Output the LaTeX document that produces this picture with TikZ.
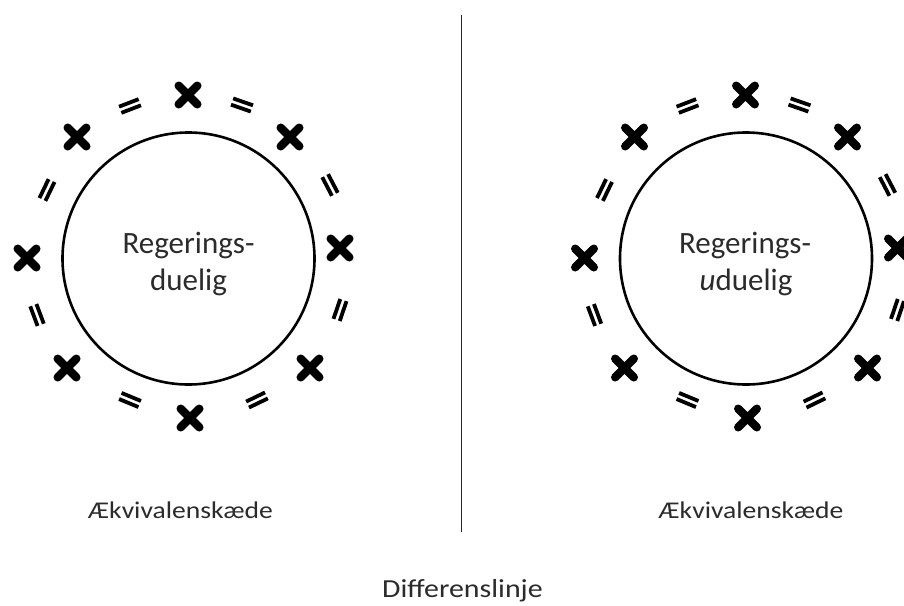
\documentclass[tikz,border=0pt]{standalone}
\usepackage{fontspec}
\setmainfont{Carlito}
\definecolor{txt}{HTML}{2B2B2B}
\tikzset{
  xmark/.pic={\draw[line width=8.4pt, line cap=round] (-9.3,-9.3)--(9.3,9.3) (-9.3,9.3)--(9.3,-9.3);},
  eqmark/.pic={\draw[line width=3.8pt] (-10.5,-3.3)--(10.5,-3.3) (-10.5,3.3)--(10.5,3.3);},
  ring/.style={circle, draw, line width=2.6pt, minimum size=252pt, inner sep=0pt},
  bigtext/.style={anchor=base, text=txt, font=\fontsize{31}{37}\selectfont},
  smalltext/.style={anchor=base, text=txt, font=\fontsize{24}{29}\selectfont},
  symbols/.pic={
    \pic at (188,95) {xmark};
    \pic at (77,137) {xmark};
    \pic at (290,137) {xmark};
    \pic at (27,258) {xmark};
    \pic at (340,248) {xmark};
    \pic at (67,368) {xmark};
    \pic at (310,368) {xmark};
    \pic at (190,418) {xmark};
    \pic[rotate=21] at (130,106) {eqmark};
    \pic[rotate=-19.2] at (242,105) {eqmark};
    \pic[rotate=64.2] at (47,190) {eqmark};
    \pic[rotate=-62.5] at (330,185) {eqmark};
    \pic[rotate=110.5] at (37,315) {eqmark};
    \pic[rotate=71.2] at (340,310) {eqmark};
    \pic[rotate=-22.5] at (130,400) {eqmark};
    \pic[rotate=25.8] at (257,400) {eqmark};
  }
}
\begin{document}
\begin{tikzpicture}[x=1pt, y=-1pt]
  \useasboundingbox (0,0) rectangle (904,605);
  \clip (0,0) rectangle (904,605);
  \fill[white] (0,0) rectangle (904,605);
  % left
  \node[ring] (lc) at (188.5,258.5) {};
  \pic at (0,0) {symbols};
  \node[bigtext] (lt1) at (188.5,253) {Regerings-};
  \node[bigtext] (lt2) at (188.5,290) {duelig};
  \node[smalltext] (lb) at (180.5,518) {\scalebox{1.15}[1]{Ækvivalenskæde}};
  % right
  \node[ring] (rc) at (746,258.5) {};
  \pic at (557.5,0) {symbols};
  \node[bigtext] (rt1) at (745,253) {Regerings-};
  \node[bigtext] (rt2) at (746,290) {\textit{u}duelig};
  \node[smalltext] (rb) at (751,518) {\scalebox{1.15}[1]{Ækvivalenskæde}};
  % divider
  \coordinate (ltop) at (461.5,15);
  \coordinate (lbot) at (461.5,532);
  \draw[line width=1.6pt, gray!30!black] (ltop) -- (lbot);
  \node[anchor=base, text=txt, font=\fontsize{26}{31}\selectfont] (diff) at (462.5,597) {\scalebox{1.15}[1]{Differenslinje}};
\end{tikzpicture}
\end{document}
